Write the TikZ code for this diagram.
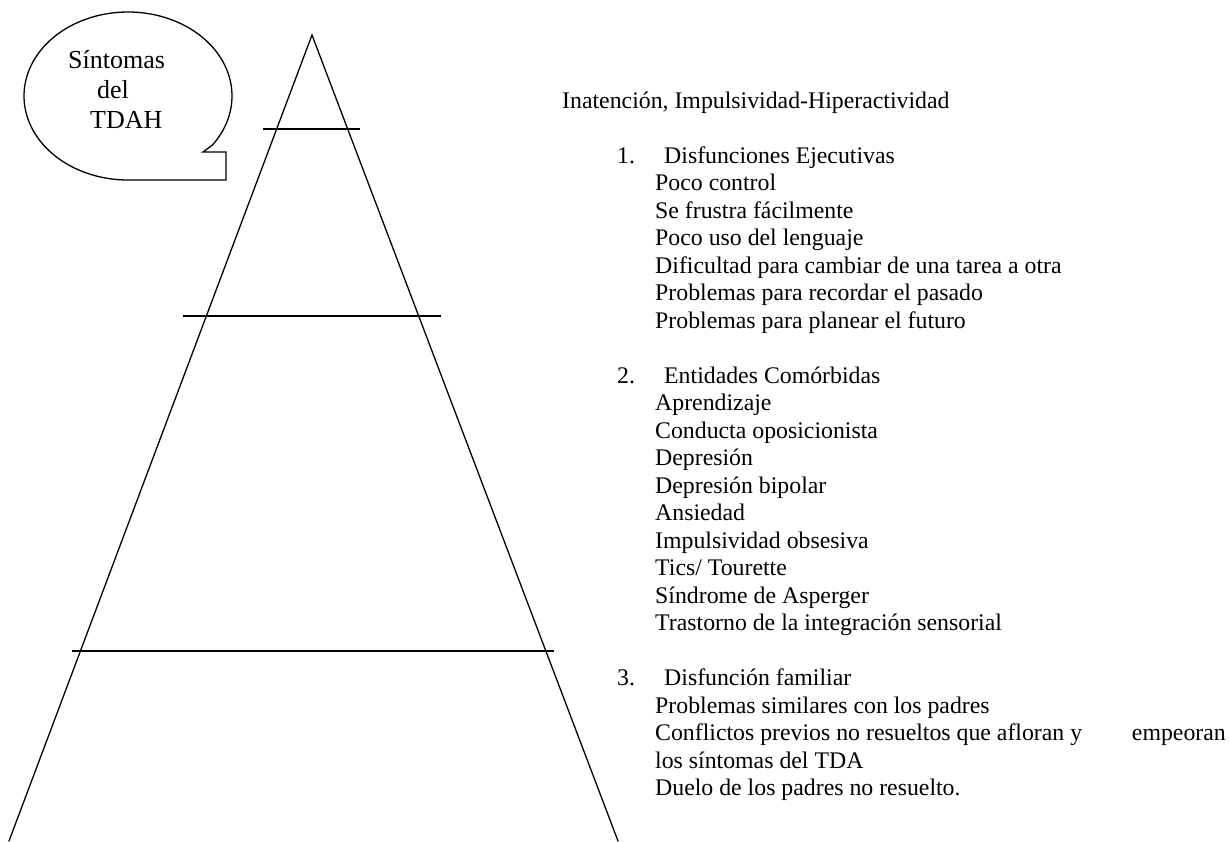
\documentclass[tikz,border=0pt]{standalone}
\usepackage{fontspec}
\setmainfont{Liberation Serif}
\begin{document}
\begin{tikzpicture}[x=1pt,y=-1pt,
  txt/.style={anchor=base west, inner sep=0pt, font=\fontsize{23.8}{27.5}\selectfont},
  bubbletxt/.style={anchor=base west, inner sep=0pt, font=\fontsize{26}{30}\selectfont},
  side/.style={line width=1.3pt, line cap=round},
  level/.style={line width=1.8pt},
  bubble/.style={line width=1.3pt, line join=miter}]
\useasboundingbox (0,0) rectangle (1229,841);

% pyramid
\coordinate (apex) at (312,35);
\coordinate (bl) at (9,841);
\coordinate (br) at (618,841);
\draw[side] (bl) -- (apex) -- (br);
\coordinate (l1a) at (263,129); \coordinate (l1b) at (360,129);
\coordinate (l2a) at (183,316); \coordinate (l2b) at (441,316);
\coordinate (l3a) at (72,651);  \coordinate (l3b) at (554,651);
\draw[level] (l1a) -- (l1b);
\draw[level] (l2a) -- (l2b);
\draw[level] (l3a) -- (l3b);

% speech bubble
\draw[bubble] (203,152) -- (226,152) -- (226,180) -- (128,180)
  -- plot[domain=90:395.7, samples=150] ({128+104*cos(\x)},{96+84*sin(\x)}) -- cycle;
\node[bubbletxt] (b1) at (68,68) {Síntomas};
\node[bubbletxt] (b2) at (97,98) {del};
\node[bubbletxt] (b3) at (90,128) {TDAH};

% list on the right
\node[txt] (h0) at (562,108) {Inatención, Impulsividad-Hiperactividad};

\node[txt] (n1) at (617,163) {1.};
\node[txt] (h1) at (664,163) {Disfunciones Ejecutivas};
\node[txt] (a1) at (655,190.5) {Poco control};
\node[txt] (a2) at (655,218) {Se frustra fácilmente};
\node[txt] (a3) at (655,245.5) {Poco uso del lenguaje};
\node[txt] (a4) at (655,273) {Dificultad para cambiar de una tarea a otra};
\node[txt] (a5) at (655,300.5) {Problemas para recordar el pasado};
\node[txt] (a6) at (655,328) {Problemas para planear el futuro};

\node[txt] (n2) at (617,383) {2.};
\node[txt] (h2) at (664,383) {Entidades Comórbidas};
\node[txt] (c1) at (655,410.5) {Aprendizaje};
\node[txt] (c2) at (655,438) {Conducta oposicionista};
\node[txt] (c3) at (655,465.5) {Depresión};
\node[txt] (c4) at (655,493) {Depresión bipolar};
\node[txt] (c5) at (655,520.5) {Ansiedad};
\node[txt] (c6) at (655,548) {Impulsividad obsesiva};
\node[txt] (c7) at (655,575.5) {Tics/ Tourette};
\node[txt] (c8) at (655,603) {Síndrome de Asperger};
\node[txt] (c9) at (655,630.5) {Trastorno de la integración sensorial};

\node[txt] (n3) at (617,685.5) {3.};
\node[txt] (h3) at (664,685.5) {Disfunción familiar};
\node[txt] (f1) at (655,713) {Problemas similares con los padres};
\node[txt] (f2) at (655,740.5) {Conflictos previos no resueltos que afloran y};
\node[txt, anchor=base east] (f2b) at (1226,740.5) {empeoran};
\node[txt] (f3) at (655,768) {los síntomas del TDA};
\node[txt] (f4) at (655,795.5) {Duelo de los padres no resuelto.};
\end{tikzpicture}
\end{document}
